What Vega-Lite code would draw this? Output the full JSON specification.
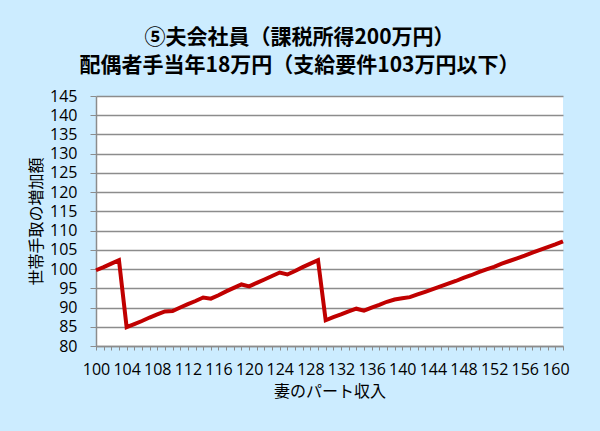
{
  "$schema": "https://vega.github.io/schema/vega-lite/v6.json",
  "width": 467,
  "height": 250,
  "autosize": "none",
  "padding": {"left": 96, "top": 96, "right": 37, "bottom": 85},
  "background": "#CCECFF",
  "config": {
    "font": "Noto Sans CJK JP",
    "view": {"fill": "white", "stroke": null}
  },
  "title": {
    "text": ["⑤夫会社員（課税所得200万円）", "配偶者手当年18万円（支給要件103万円以下）"],
    "fontSize": 21,
    "fontWeight": "bold",
    "color": "black",
    "anchor": "middle",
    "frame": "group",
    "dx": -30,
    "lineHeight": 28,
    "offset": 12
  },
  "data": {
    "values": [
      {"income": 100, "gain": 99.7}, {"income": 101, "gain": 100.5}, {"income": 102, "gain": 101.4},
      {"income": 103, "gain": 102.3}, {"income": 104, "gain": 84.9}, {"income": 105, "gain": 85.7},
      {"income": 106, "gain": 86.5}, {"income": 107, "gain": 87.4}, {"income": 108, "gain": 88.2},
      {"income": 109, "gain": 89.0}, {"income": 110, "gain": 89.1}, {"income": 111, "gain": 90.0},
      {"income": 112, "gain": 90.9}, {"income": 113, "gain": 91.7}, {"income": 114, "gain": 92.6},
      {"income": 115, "gain": 92.3}, {"income": 116, "gain": 93.2}, {"income": 117, "gain": 94.2},
      {"income": 118, "gain": 95.1}, {"income": 119, "gain": 96.0}, {"income": 120, "gain": 95.5},
      {"income": 121, "gain": 96.4}, {"income": 122, "gain": 97.3}, {"income": 123, "gain": 98.2},
      {"income": 124, "gain": 99.1}, {"income": 125, "gain": 98.6}, {"income": 126, "gain": 99.5},
      {"income": 127, "gain": 100.5}, {"income": 128, "gain": 101.4}, {"income": 129, "gain": 102.3},
      {"income": 130, "gain": 86.7}, {"income": 131, "gain": 87.5}, {"income": 132, "gain": 88.2},
      {"income": 133, "gain": 89.0}, {"income": 134, "gain": 89.7}, {"income": 135, "gain": 89.2},
      {"income": 136, "gain": 90.0}, {"income": 137, "gain": 90.7}, {"income": 138, "gain": 91.5},
      {"income": 139, "gain": 92.1}, {"income": 140, "gain": 92.4}, {"income": 141, "gain": 92.7},
      {"income": 142, "gain": 93.4}, {"income": 143, "gain": 94.1}, {"income": 144, "gain": 94.8},
      {"income": 145, "gain": 95.5}, {"income": 146, "gain": 96.2}, {"income": 147, "gain": 96.9},
      {"income": 148, "gain": 97.7}, {"income": 149, "gain": 98.4}, {"income": 150, "gain": 99.2},
      {"income": 151, "gain": 99.9}, {"income": 152, "gain": 100.6}, {"income": 153, "gain": 101.4},
      {"income": 154, "gain": 102.1}, {"income": 155, "gain": 102.8}, {"income": 156, "gain": 103.5},
      {"income": 157, "gain": 104.3}, {"income": 158, "gain": 105.0}, {"income": 159, "gain": 105.7},
      {"income": 160, "gain": 106.4}, {"income": 161, "gain": 107.2}
    ]
  },
  "mark": {"type": "line", "color": "#C00000", "strokeWidth": 4},
  "encoding": {
    "x": {
      "field": "income",
      "type": "quantitative",
      "title": "妻のパート収入",
      "scale": {"domain": [100, 161], "nice": false, "zero": false},
      "axis": {
        "values": [100,101,102,103,104,105,106,107,108,109,110,111,112,113,114,115,116,117,118,119,120,121,122,123,124,125,126,127,128,129,130,131,132,133,134,135,136,137,138,139,140,141,142,143,144,145,146,147,148,149,150,151,152,153,154,155,156,157,158,159,160,161],
        "labelExpr": "(datum.value - 100) % 4 == 0 ? datum.label : ''",
        "labelOverlap": false,
        "labelFlush": false,
        "labelFont": "Open Sans",
        "labelFontSize": 16,
        "labelColor": "black",
        "labelPadding": 11,
        "grid": false,
        "tickSize": 4,
        "tickColor": "#8C8C8C",
        "domainColor": "#8C8C8C",
        "domainWidth": 1.5,
        "titleFontSize": 16,
        "titleFontWeight": "normal",
        "titleColor": "black",
        "titlePadding": 6
      }
    },
    "y": {
      "field": "gain",
      "type": "quantitative",
      "title": "世帯手取の増加額",
      "scale": {"domain": [80, 145], "nice": false, "zero": false},
      "axis": {
        "values": [80, 85, 90, 95, 100, 105, 110, 115, 120, 125, 130, 135, 140, 145],
        "labelFont": "Open Sans",
        "labelFontSize": 16,
        "labelColor": "black",
        "labelPadding": 13,
        "tickSize": 6,
        "tickColor": "#8C8C8C",
        "domainColor": "#8C8C8C",
        "domainWidth": 1.5,
        "gridColor": "#8C8C8C",
        "gridWidth": 1.5,
        "titleFontSize": 16,
        "titleFontWeight": "normal",
        "titleColor": "black",
        "titlePadding": 5
      }
    }
  }
}
